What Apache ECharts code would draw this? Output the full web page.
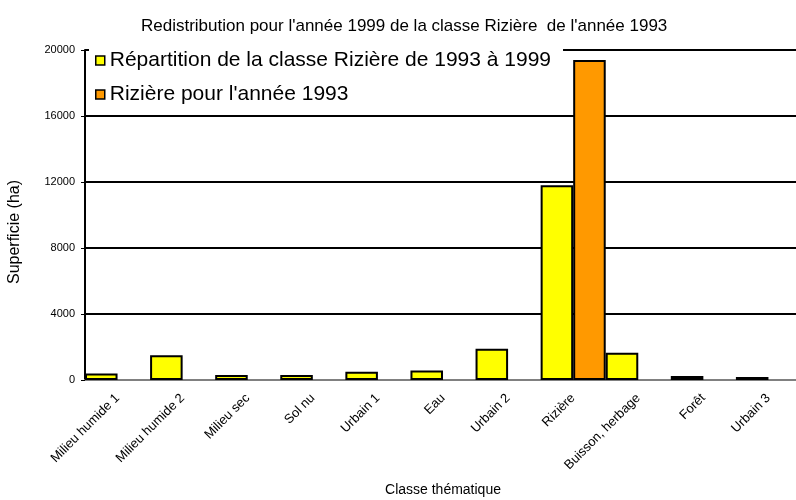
<!DOCTYPE html>
<html>
<head>
<meta charset="utf-8">
<script src="https://cdn.jsdelivr.net/npm/echarts@6/dist/echarts.min.js"></script>
<style>
  html, body { margin: 0; padding: 0; background: #fff; }
  #chart { width: 796px; height: 500px; }
</style>
</head>
<body>
<div id="chart"></div>
<script>
var categories = ['Milieu humide 1', 'Milieu humide 2', 'Milieu sec', 'Sol nu', 'Urbain 1', 'Eau',
  'Urbain 2', 'Rizière', 'Buisson, herbage', 'Forêt', 'Urbain 3'];
var repartition = [400, 1500, 300, 300, 500, 580, 1900, 11800, 1650, 240, 180];
var riziere1993 = ['-', '-', '-', '-', '-', '-', '-', 19400, '-', '-', '-'];
var yTicks = [0, 4000, 8000, 12000, 16000, 20000];

var font = 'Liberation Sans, Arial, sans-serif';
var chart = echarts.init(document.getElementById('chart'));

var option = {
  backgroundColor: '#fff',
  animation: false,
  textStyle: { fontFamily: font },
  title: {
    text: "Redistribution pour l'année 1999 de la classe Rizière  de l'année 1993",
    left: 136,
    top: 13,
    textStyle: { fontSize: 17, fontWeight: 'normal', color: '#000', fontFamily: font }
  },
  legend: {
    orient: 'vertical',
    left: 89,
    top: 43,
    icon: 'rect',
    itemWidth: 9,
    itemHeight: 9,
    itemGap: 13,
    padding: [7, 12, 6, 6],
    backgroundColor: '#fff',
    itemStyle: { borderColor: '#000', borderWidth: 1.5 },
    textStyle: { fontSize: 21, color: '#000', fontFamily: font },
    data: ['Répartition de la classe Rizière de 1993 à 1999', "Rizière pour l'année 1993"]
  },
  grid: { left: 85, top: 50, height: 330, width: 716, outerBoundsMode: 'none', containLabel: false },
  xAxis: {
    type: 'category',
    data: categories,
    name: 'Classe thématique',
    nameLocation: 'middle',
    nameGap: 103,
    nameTextStyle: { fontSize: 14, color: '#000', fontFamily: font },
    axisLine: { lineStyle: { color: '#808080', width: 2 } },
    axisTick: { show: false },
    axisLabel: { rotate: 45, fontSize: 13, color: '#000', margin: 16, interval: 0, fontFamily: font }
  },
  yAxis: {
    type: 'value',
    min: yTicks[0],
    max: yTicks[yTicks.length - 1],
    interval: 4000,
    name: 'Superficie (ha)',
    nameLocation: 'middle',
    nameRotate: 90,
    nameGap: 62,
    nameTextStyle: { fontSize: 16, color: '#000', fontFamily: font, padding: [0, 34, 0, 0] },
    axisLine: { show: true, lineStyle: { color: '#000', width: 2 } },
    axisTick: { show: true, length: 4, inside: false, lineStyle: { color: '#000', width: 1 } },
    axisLabel: {
      fontSize: 11, color: '#000', margin: 10, fontFamily: font,
      formatter: function(v) { return String(v); }
    },
    splitLine: { lineStyle: { color: '#000', width: 2 } }
  },
  series: [
    {
      name: 'Répartition de la classe Rizière de 1993 à 1999',
      type: 'bar',
      data: repartition,
      barGap: '0%',
      barCategoryGap: '0%',
      itemStyle: { color: '#FFFF00', borderColor: '#000', borderWidth: 2 }
    },
    {
      name: "Rizière pour l'année 1993",
      type: 'bar',
      data: riziere1993,
      itemStyle: { color: '#FF9900', borderColor: '#000', borderWidth: 2 }
    }
  ]
};
chart.setOption(option);
</script>
</body>
</html>
